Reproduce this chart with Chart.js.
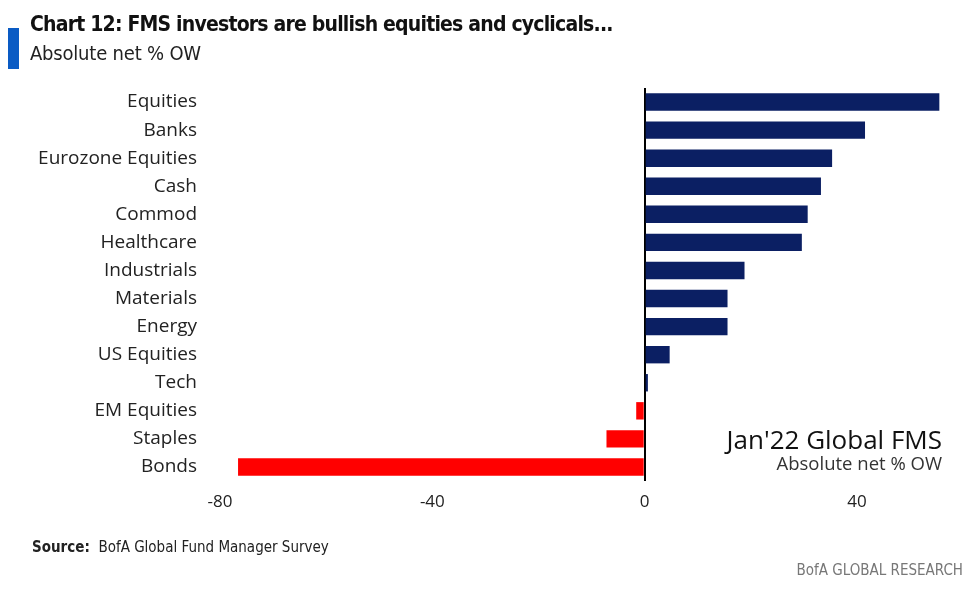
<!DOCTYPE html>
<html>
<head>
<meta charset="utf-8">
<script src="https://cdn.jsdelivr.net/npm/chart.js@4"></script>
<style>
  body { margin: 0; background: #fff; }
  #wrap { position: relative; width: 968px; height: 602px; overflow: hidden; }
  #fms_bar_chart { position: absolute; left: 0; top: 0; }
  .txt { position: absolute; white-space: nowrap; }
  #flag { left: 8px; top: 28px; width: 11px; height: 41px; background: #0a5bc4; }
  #title { left: 30px; top: 12px; font: bold 21px "Liberation Sans Narrow", "DejaVu Sans Condensed", sans-serif; color: #111; letter-spacing: -0.8px; }
  #subtitle { left: 30px; top: 41px; font: 20px "Liberation Sans Narrow", "DejaVu Sans Condensed", sans-serif; color: #222; letter-spacing: -0.2px; }
  #note1 { right: 26px; top: 421px; font: 26px "Open Sans", sans-serif; color: #111; }
  #note2 { right: 26px; top: 450px; font: 18.5px "Open Sans", sans-serif; color: #333; }
  #source { left: 32px; top: 538px; font: 15px "Liberation Sans Narrow", "DejaVu Sans Condensed", sans-serif; color: #222; }
  #brand { right: 5px; top: 561px; font: 15px "Liberation Sans Narrow", "DejaVu Sans Condensed", sans-serif; color: #777; }
</style>
</head>
<body>
<div id="wrap">
  <canvas id="fms_bar_chart" width="968" height="602"></canvas>
  <div class="txt" id="flag"></div>
  <div class="txt" id="title">Chart 12: FMS investors are bullish equities and cyclicals...</div>
  <div class="txt" id="subtitle">Absolute net % OW</div>
  <div class="txt" id="note1">Jan'22 Global FMS</div>
  <div class="txt" id="note2">Absolute net % OW</div>
  <div class="txt" id="source"><b>Source:</b>&nbsp; BofA Global Fund Manager Survey</div>
  <div class="txt" id="brand">BofA GLOBAL RESEARCH</div>
</div>
<script>
// data
var categories = ["Equities", "Banks", "Eurozone Equities", "Cash", "Commod", "Healthcare",
  "Industrials", "Materials", "Energy", "US Equities", "Tech", "EM Equities", "Staples", "Bonds"];
var net_ow = [55.5, 41.5, 35.3, 33.2, 30.7, 29.6, 18.8, 15.6, 15.6, 4.7, 0.6, -1.6, -7.2, -76.6];
var x_ticks = [-80, -40, 0, 40];

var navy = '#0b1f63';
var red = '#ff0000';
var bar_colors = net_ow.map(v => v < 0 ? red : navy);

const ctx = document.getElementById("fms_bar_chart").getContext("2d");

var my_chart = new Chart(ctx, {
  type: 'bar',
  data: {
    labels: categories,
    datasets: [{
      label: 'Absolute net % OW',
      data: net_ow,
      backgroundColor: bar_colors,
      borderWidth: 0,
      barPercentage: 0.62,
      categoryPercentage: 1
    }]
  },
  options: {
    indexAxis: 'y',
    responsive: false,
    animation: false,
    layout: { padding: { top: 88, right: 26, left: 0, bottom: 0 } },
    plugins: {
      legend: { display: false },
      tooltip: { enabled: false }
    },
    scales: {
      x: {
        min: -80,
        max: 56,
        afterBuildTicks: axis => { axis.ticks = x_ticks.map(v => ({ value: v })); },
        afterFit: axis => { axis.height = 121; },
        border: { display: false },
        grid: {
          drawTicks: false,
          color: c => c.tick && c.tick.value === 0 ? '#000' : 'rgba(0,0,0,0)',
          lineWidth: 2
        },
        ticks: {
          padding: 11,
          color: '#222',
          font: { family: 'Open Sans', size: 17 }
        }
      },
      y: {
        afterFit: axis => { axis.width = 220; },
        border: { display: false },
        grid: { display: false, drawTicks: false },
        ticks: {
          padding: 23,
          color: '#222',
          font: { family: 'Open Sans', size: 19 }
        }
      }
    }
  }
});
</script>
</body>
</html>
